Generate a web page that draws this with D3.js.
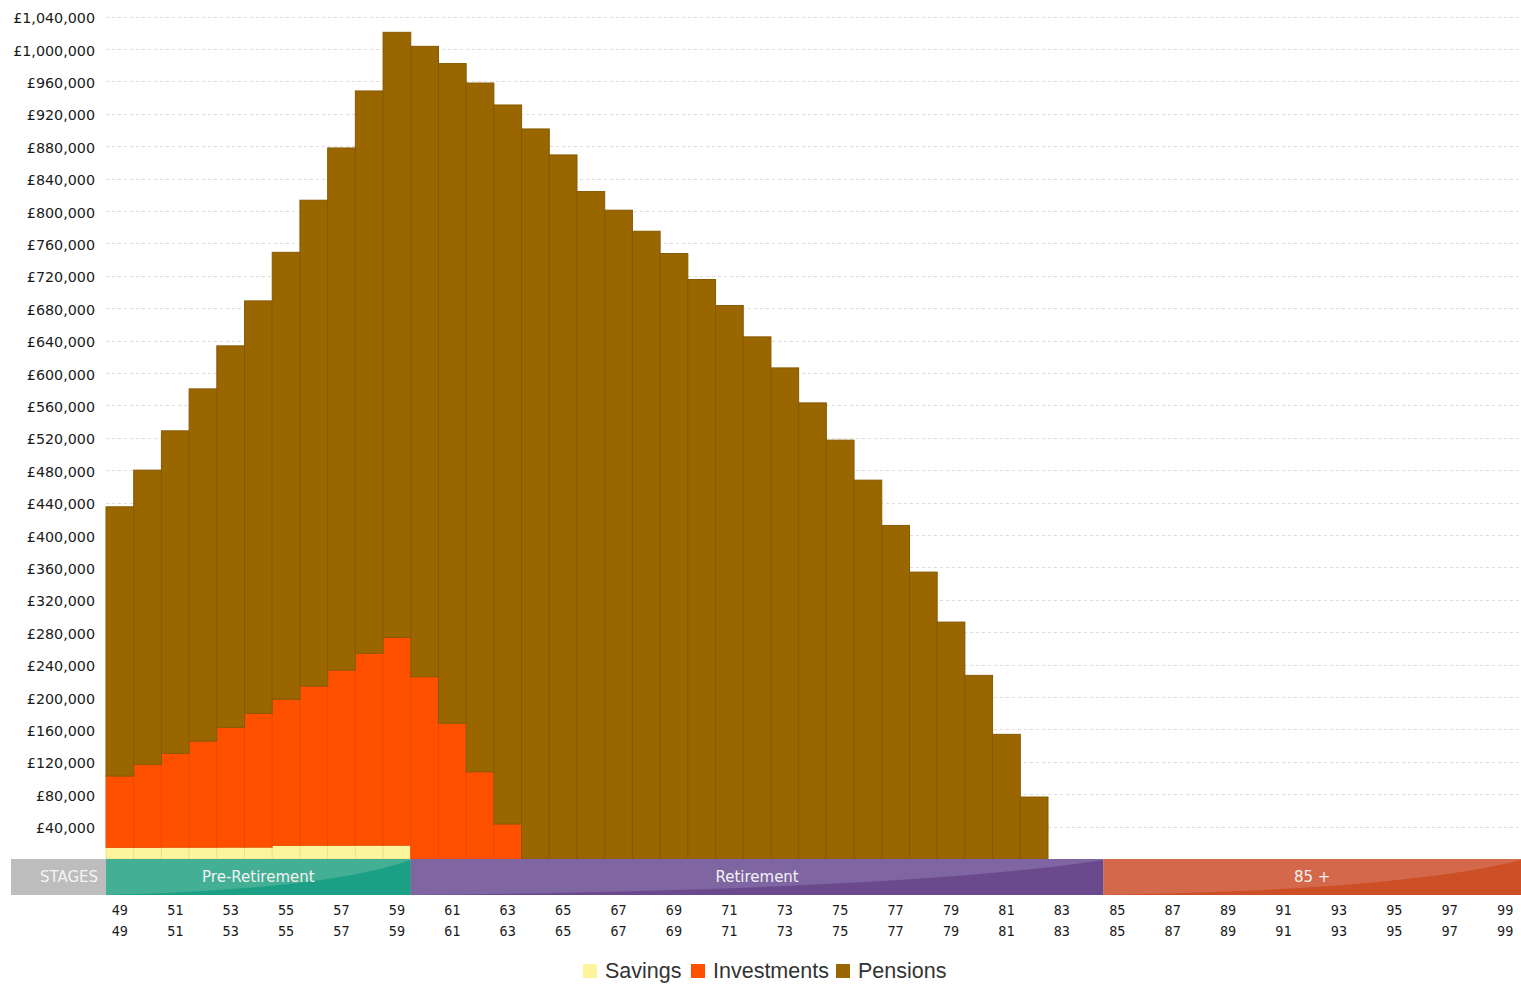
<!DOCTYPE html>
<html>
<head>
<meta charset="utf-8">
<script src="https://cdn.jsdelivr.net/npm/d3@7/dist/d3.min.js"></script>
<style>
  html, body { margin: 0; padding: 0; background: #fff; }
  svg { display: block; }
</style>
</head>
<body>
<svg id="chart" width="1521" height="985"></svg>
<script>
// Ages shown along the bottom
const ages = d3.range(49, 100);

// Asset values per age (£), ages 49..99
const savings = [
  14400, 14400, 14500, 14500, 14600, 14600, 16800, 16900, 16900, 17000, 17000,
  0, 0, 0, 0, 0, 0, 0, 0, 0, 0, 0, 0, 0, 0, 0, 0, 0, 0, 0, 0, 0, 0, 0, 0, 0,
  0, 0, 0, 0, 0, 0, 0, 0, 0, 0, 0, 0, 0, 0, 0
];
const investments = [
  88000, 102500, 115900, 131100, 147900, 165200, 180300, 196600, 216300, 236900, 256600,
  225000, 167500, 107700, 43200, 0, 0, 0, 0, 0, 0, 0, 0, 0, 0, 0,
  0, 0, 0, 0, 0, 0, 0, 0, 0, 0,
  0, 0, 0, 0, 0, 0, 0, 0, 0, 0, 0, 0, 0, 0, 0
];
const pensions = [
  332400, 363200, 398200, 434800, 471000, 509200, 551900, 599800, 644600, 694300, 747000,
  778300, 814500, 850300, 887700, 901300, 869200, 824000, 801000, 775000, 747500,
  715400, 683300, 644600, 606300, 563100, 517100, 467700, 411800, 354200, 292500,
  226700, 153900, 76500, 0, 0,
  0, 0, 0, 0, 0, 0, 0, 0, 0, 0, 0, 0, 0, 0, 0
];

// Life stages along the age axis
const stageNames = ["Pre-Retirement", "Retirement", "85 +"];
const stageStart = [49, 60, 85];
const stageEnd = [59, 84, 99];
const stageLight = ["#43af95", "#7f65a1", "#d4684b"];
const stageDark = ["#1ba085", "#6a4a8c", "#cd4f26"];

// Y axis ticks
const yTicks = d3.range(40000, 1040001, 40000);

// Series styling
const seriesNames = ["Savings", "Investments", "Pensions"];
const seriesFill = ["#fdf59c", "#ff5000", "#996600"];
const seriesEdge = ["#eee08a", "#ea4a00", "#875a00"];

const svg = d3.select("#chart");

const x = d3.scaleBand().domain(ages).range([106, 1519]).padding(0);
const y = d3.scaleLinear().domain([0, 1040000]).range([859, 16.6]);

// Horizontal dashed gridlines
svg.append("g")
  .selectAll("line")
  .data(yTicks)
  .join("line")
  .attr("x1", 106).attr("x2", 1521)
  .attr("y1", d => Math.round(y(d)) + 0.5)
  .attr("y2", d => Math.round(y(d)) + 0.5)
  .attr("stroke", "#dcdcdc")
  .attr("stroke-dasharray", "3,3");

// Y axis labels
const fmt = d3.format(",");
svg.append("g")
  .selectAll("text")
  .data(yTicks)
  .join("text")
  .attr("x", 95)
  .attr("y", d => y(d) + 2.5)
  .attr("text-anchor", "end")
  .attr("dominant-baseline", "middle")
  .attr("font-family", "DejaVu Sans, Verdana, sans-serif")
  .attr("font-size", 14.3)
  .attr("fill", "#1a1a1a")
  .text(d => "£" + fmt(d));

// Stacked bars
const rows = ages.map((a, i) => ({
  age: a, Savings: savings[i], Investments: investments[i], Pensions: pensions[i]
}));
const stack = d3.stack().keys(seriesNames)(rows);

svg.append("g")
  .selectAll("g")
  .data(stack)
  .join("g")
  .attr("fill", (d, i) => seriesFill[i])
  .attr("stroke", (d, i) => seriesEdge[i])
  .attr("stroke-width", 1)
  .selectAll("rect")
  .data(d => d.filter(s => s[1] - s[0] > 0))
  .join("rect")
  .attr("x", d => x(d.data.age))
  .attr("width", x.bandwidth())
  .attr("y", d => y(d[1]))
  .attr("height", d => y(d[0]) - y(d[1]));

// Stage band
const bandTop = 859, bandBottom = 895;
const band = svg.append("g");

band.append("rect")
  .attr("x", 11).attr("y", bandTop)
  .attr("width", 95).attr("height", bandBottom - bandTop)
  .attr("fill", "#bdbdbd");
band.append("text")
  .attr("x", 69).attr("y", (bandTop + bandBottom) / 2)
  .attr("text-anchor", "middle")
  .attr("dominant-baseline", "middle")
  .attr("font-family", "DejaVu Sans, sans-serif")
  .attr("font-size", 15)
  .attr("fill", "#f4f4f4")
  .text("STAGES");

stageNames.forEach((name, i) => {
  const x0 = x(stageStart[i]);
  const x1 = i === stageNames.length - 1 ? 1521 : x(stageEnd[i]) + x.bandwidth();
  const w = x1 - x0;
  band.append("rect")
    .attr("x", x0).attr("y", bandTop)
    .attr("width", w).attr("height", bandBottom - bandTop)
    .attr("fill", stageLight[i]);
  band.append("path")
    .attr("d", `M${x0},${bandBottom} Q${x0 + w * 0.72},${bandBottom - 5} ${x1},${bandTop + 1} L${x1},${bandBottom} Z`)
    .attr("fill", stageDark[i]);
  band.append("text")
    .attr("x", (x0 + x1) / 2).attr("y", (bandTop + bandBottom) / 2)
    .attr("text-anchor", "middle")
    .attr("dominant-baseline", "middle")
    .attr("font-family", "DejaVu Sans, sans-serif")
    .attr("font-size", 15)
    .attr("fill", "#f2f2f2")
    .text(name);
});

// Age labels (two identical rows)
const oddAges = ages.filter(a => a % 2 === 1);
[911, 932].forEach(rowY => {
  svg.append("g")
    .selectAll("text")
    .data(oddAges)
    .join("text")
    .attr("x", d => x(d) + x.bandwidth() / 2)
    .attr("y", rowY)
    .attr("text-anchor", "middle")
    .attr("dominant-baseline", "middle")
    .attr("font-family", "DejaVu Sans Mono, monospace")
    .attr("font-size", 13.5)
    .attr("fill", "#1a1a1a")
    .text(d => d);
});

// Legend
const legendX = [583, 691, 836];
const legend = svg.append("g");
seriesNames.forEach((name, i) => {
  legend.append("rect")
    .attr("x", legendX[i]).attr("y", 964)
    .attr("width", 14).attr("height", 14)
    .attr("fill", seriesFill[i]);
  legend.append("text")
    .attr("x", legendX[i] + 22).attr("y", 972)
    .attr("dominant-baseline", "middle")
    .attr("font-family", "Liberation Sans, Arial, sans-serif")
    .attr("font-size", 21.5)
    .attr("fill", "#333")
    .text(name);
});
</script>
</body>
</html>
